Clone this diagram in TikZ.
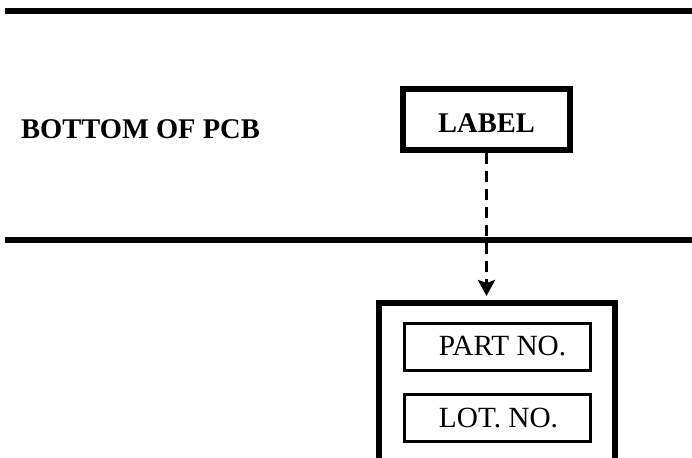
\documentclass[tikz,border=0pt]{standalone}
\usepackage{fontspec}
\setmainfont{Liberation Serif}
\usetikzlibrary{arrows.meta}
\begin{document}
\begin{tikzpicture}[x=1pt,y=-1pt,
  rule/.style={line width=6pt},
  thickbox/.style={draw,line width=6pt,inner sep=0pt},
  thinbox/.style={draw,line width=3pt,inner sep=0pt,minimum width=186pt,minimum height=47pt},
  txt/.style={font=\fontsize{29.3}{35}\selectfont,inner sep=0pt},
  btxt/.style={font=\fontsize{28.5}{34}\selectfont\bfseries,inner sep=0pt},
  link/.style={line width=3pt,dash pattern=on 11pt off 7pt,-{Stealth[length=16pt,width=17pt,inset=3pt]}}
]
\useasboundingbox (0,0) rectangle (692,457);
\begin{scope}
\clip (0,0) rectangle (692,457);
\draw[rule] (5,11) -- (692,11);
\draw[rule] (5,240) -- (692,240);
\node[btxt,anchor=west] (pcb) at (21,129.5) {BOTTOM OF PCB};
\node[thickbox,minimum width=167pt,minimum height=61pt] (labelbox) at (486.5,119.5) {};
\node[btxt] (labeltxt) at (486.5,123) {LABEL};
\node[thickbox,minimum width=236pt,minimum height=167pt] (tag) at (497,386.5) {};
\node[thinbox] (partbox) at (497,346.5) {};
\node[txt] (parttxt) at (502.5,346.5) {PART NO.};
\node[thinbox] (lotbox) at (497,418) {};
\node[txt] (lottxt) at (498.5,418) {LOT. NO.};
\draw[link,shorten >=4pt] (labelbox.south) -- (labelbox.south |- tag.north);
\end{scope}
\end{tikzpicture}
\end{document}
